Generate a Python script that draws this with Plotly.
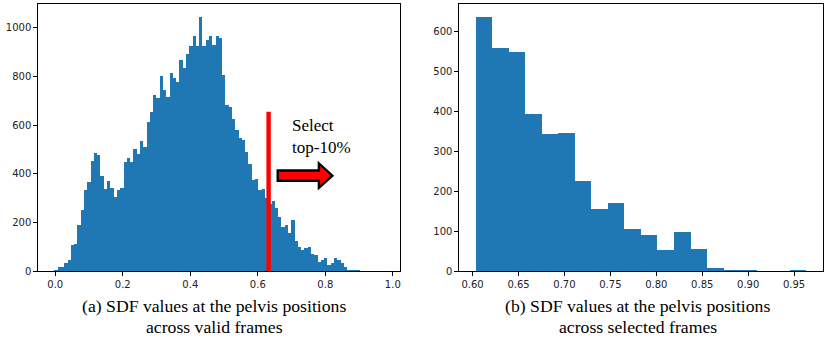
import numpy as np
import plotly.graph_objects as go

# ---------------- data ----------------
# (a) histogram of SDF values across valid frames: 100 bins
left_bin_min = -0.0017
left_bin_max = 0.9726
left_counts = [
    5, 15, 17, 35, 46, 108, 113, 190, 250, 335,
    365, 452, 486, 476, 392, 339, 371, 342, 304, 335,
    342, 450, 466, 450, 502, 482, 533, 509, 611, 655,
    723, 712, 801, 742, 715, 813, 792, 778, 869, 834,
    890, 925, 966, 925, 1045, 925, 950, 966, 930, 966,
    957, 805, 684, 674, 625, 579, 546, 540, 490, 439,
    376, 378, 335, 337, 300, 276, 288, 257, 223, 180,
    190, 155, 210, 122, 100, 88, 95, 100, 69, 65,
    37, 44, 53, 26, 33, 55, 47, 32, 17, 5,
    2, 1, 1, 0, 0, 0, 0, 0, 0, 0,
]
left_xticks = [0.0, 0.2, 0.4, 0.6, 0.8, 1.0]
left_yticks = [0, 200, 400, 600, 800, 1000]

# threshold for top-10% selection
threshold_x = 0.632
threshold_top = 655

# (b) histogram of SDF values across selected frames: 20 bins
right_bin_min = 0.6037
right_bin_max = 0.9638
right_counts = [636, 559, 548, 392, 343, 345, 226, 155, 169, 105,
                90, 52, 97, 56, 7, 3, 3, 0, 0, 2]
right_xticks = [0.60, 0.65, 0.70, 0.75, 0.80, 0.85, 0.90, 0.95]
right_yticks = [0, 100, 200, 300, 400, 500, 600]

caption_a = ["(a) SDF values at the pelvis positions", "across valid frames"]
caption_b = ["(b) SDF values at the pelvis positions", "across selected frames"]
select_text = ["Select", "top-10%"]

# ---------------- helpers ----------------
W, H = 830, 341
BLUE = "#1f77b4"


def bins(lo, hi, counts):
    edges = np.linspace(lo, hi, len(counts) + 1)
    centers = (edges[:-1] + edges[1:]) / 2
    width = edges[1] - edges[0]
    return centers, width


def mpl_range(lo, hi):
    d = hi - lo
    return [lo - 0.05 * d, hi + 0.05 * d]


lc, lw = bins(left_bin_min, left_bin_max, left_counts)
rc, rw = bins(right_bin_min, right_bin_max, right_counts)

fig = go.Figure()
fig.add_trace(go.Bar(x=lc, y=left_counts, width=lw, marker=dict(color=BLUE, line=dict(width=0)),
                     xaxis="x", yaxis="y"))
fig.add_trace(go.Scatter(x=[threshold_x, threshold_x], y=[0, threshold_top], mode="lines",
                         line=dict(color="#ff0000", width=4.4), xaxis="x", yaxis="y"))
fig.add_trace(go.Bar(x=rc, y=right_counts, width=rw, marker=dict(color=BLUE, line=dict(width=0)),
                     xaxis="x2", yaxis="y2"))

# arrow (data coordinates of the left panel)
ax0, ax1, axh = 0.659, 0.821, 0.781   # tail, tip, head start
ayc, abh, ahh = 393, 21, 50           # centre, body half-height, head half-height
path = (f"M {ax0},{ayc-abh} L {axh},{ayc-abh} L {axh},{ayc-ahh} L {ax1},{ayc} "
        f"L {axh},{ayc+ahh} L {axh},{ayc+abh} L {ax0},{ayc+abh} Z")
fig.add_shape(type="path", path=path, xref="x", yref="y",
              fillcolor="#ff0000", line=dict(color="black", width=2.4))

# ---------------- layout ----------------
def px_x(p):
    return p / W


def px_y(p):
    return 1 - p / H


tick_font = dict(family="DejaVu Sans", size=10, color="#222222")
axis_common = dict(showline=True, linecolor="black", linewidth=1, mirror=True,
                   ticks="outside", ticklen=4, tickwidth=1, tickcolor="black",
                   showgrid=False, zeroline=False, tickfont=tick_font)

left_max = max(left_counts) * 1.05
right_max = max(right_counts) * 1.05

fig.update_layout(
    width=W, height=H, margin=dict(l=0, r=0, t=0, b=0),
    paper_bgcolor="white", plot_bgcolor="white", showlegend=False,
    bargap=0,
    xaxis=dict(domain=[px_x(38.3), px_x(400.5)], range=mpl_range(left_bin_min, left_bin_max),
               tickvals=left_xticks, tickformat=".1f", anchor="y", **axis_common),
    yaxis=dict(domain=[px_y(275.3), px_y(4.3)], range=[0, left_max],
               tickvals=left_yticks, anchor="x", **axis_common),
    xaxis2=dict(domain=[px_x(460), px_x(824.3)], range=mpl_range(right_bin_min, right_bin_max),
                tickvals=right_xticks, tickformat=".2f", anchor="y2", **axis_common),
    yaxis2=dict(domain=[px_y(275.3), px_y(4.3)], range=[0, right_max],
                tickvals=right_yticks, anchor="x2", **axis_common),
)

serif = "Liberation Serif, Times New Roman, serif"
cap_font = dict(family=serif, size=17.7, color="black")
for cx, lines in ((214.5, caption_a), (638.5, caption_b)):
    for txt, cy in zip(lines, (310.5, 332.0)):
        fig.add_annotation(text=txt, x=px_x(cx), y=px_y(cy), xref="paper", yref="paper",
                           xanchor="center", yanchor="middle", showarrow=False, font=cap_font)

sel_font = dict(family=serif, size=17, color="black")
fig.add_annotation(text="<br>".join(select_text), x=px_x(290.5), y=px_y(138.5),
                   xref="paper", yref="paper", xanchor="left", yanchor="middle",
                   align="left", showarrow=False, font=sel_font)

fig.write_html("out.html")
